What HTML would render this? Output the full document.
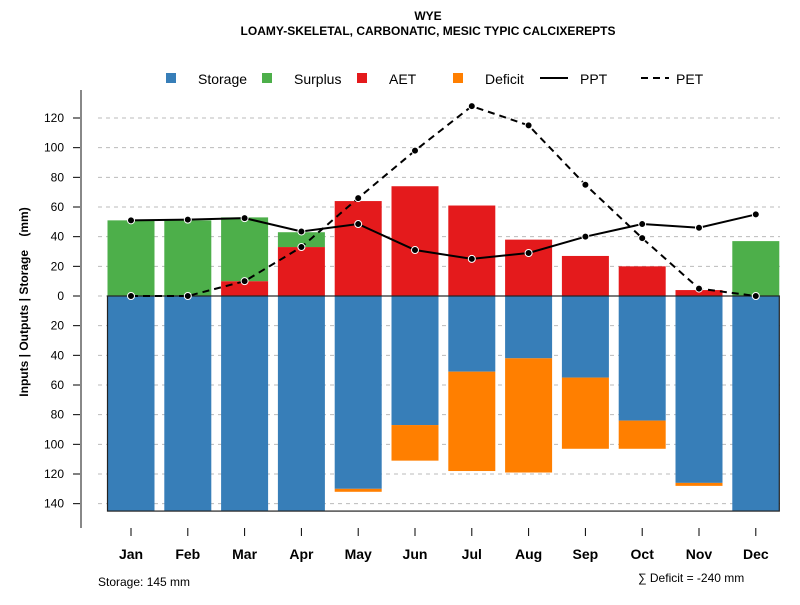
<!DOCTYPE html>
<html><head><meta charset="utf-8"><style>
body{margin:0;background:#fff;font-family:"Liberation Sans",Arial,sans-serif}
svg text{font-family:"Liberation Sans",Arial,sans-serif}
</style></head><body>
<svg id="c" width="800" height="600">
<text x="428" y="20" text-anchor="middle" font-size="12" font-weight="bold">WYE</text>
<text x="428" y="35" text-anchor="middle" font-size="12" font-weight="bold">LOAMY-SKELETAL, CARBONATIC, MESIC TYPIC CALCIXEREPTS</text>
<g id="legend">
<rect x="166" y="73" width="10" height="10" fill="#377eb8"/><text x="198" y="84" font-size="14">Storage</text>
<rect x="262" y="73" width="10" height="10" fill="#4daf4a"/><text x="294" y="84" font-size="14">Surplus</text>
<rect x="357" y="73" width="10" height="10" fill="#e41a1c"/><text x="389" y="84" font-size="14">AET</text>
<rect x="453" y="73" width="10" height="10" fill="#ff7f00"/><text x="485" y="84" font-size="14">Deficit</text>
<line x1="540" y1="78" x2="568" y2="78" stroke="#000" stroke-width="2"/><text x="580" y="84" font-size="14">PPT</text>
<line x1="641" y1="78" x2="669" y2="78" stroke="#000" stroke-width="2" stroke-dasharray="7,5"/><text x="676" y="84" font-size="14">PET</text>
</g>
<g id="grid"></g><g id="bars"></g><g id="lines"></g><g id="axes"></g>
<text transform="translate(28,302) rotate(-90)" text-anchor="middle" font-size="12" font-weight="bold" xml:space="preserve">Inputs | Outputs | Storage    (mm)</text>
<text x="98" y="586" font-size="12">Storage: 145 mm</text>
<text x="638" y="582" font-size="12">∑ Deficit = -240 mm</text>
</svg>
<script>
const months=["Jan","Feb","Mar","Apr","May","Jun","Jul","Aug","Sep","Oct","Nov","Dec"];
const surplus=[51,51,43,10,0,0,0,0,0,0,0,37];
const aet=[0,0,10,33,64,74,61,38,27,20,4,0];
const storage=[145,145,145,145,130,87,51,42,55,84,126,145];
const deficit=[0,0,0,0,2,24,67,77,48,19,2,0];
const ppt=[51,51.5,52.5,43.5,48.5,31,25,29,40,48.5,46,55];
const pet=[0,0,10,33,66,98,128,115,75,39,5,0];
const yTicks=[120,100,80,60,40,20,0,20,40,60,80,100,120,140];
const yTickVals=[120,100,80,60,40,20,0,-20,-40,-60,-80,-100,-120,-140];
const capacity=145;
const NS="http://www.w3.org/2000/svg";
const y=v=>296-v*1.4833;
const x=i=>131+i*56.8;
const bw=47;
function mk(t,a,p){const e=document.createElementNS(NS,t);for(const k in a)e.setAttribute(k,a[k]);p.appendChild(e);return e;}
const G=document.getElementById('grid'),B=document.getElementById('bars'),L=document.getElementById('lines'),A=document.getElementById('axes');
yTickVals.forEach((v,k)=>{
 const g=mk('line',{x1:98,x2:780,y1:y(v),y2:y(v),stroke:'#bbb','stroke-dasharray':'4,4'},G);
 
 
 mk('line',{x1:73,x2:81,y1:y(v),y2:y(v),stroke:'#000'},A);
 const t=mk('text',{x:64,y:y(v)+4,'text-anchor':'end','font-size':12},A);t.textContent=yTicks[k];
 
 
});
mk('line',{x1:81,x2:81,y1:90,y2:528,stroke:'#888','stroke-width':2},A);
months.forEach((m,i)=>{
 const cx=x(i),x0=cx-bw/2;
 function bar(v0,v1,c,n){if(v1===v0)return;const r=mk('rect',{x:x0,y:Math.min(y(v0),y(v1)),width:bw,height:Math.abs(y(v1)-y(v0)),fill:c},B);
  
  }
 bar(0,-storage[i],'#377eb8','storage-bar-'+m.toLowerCase());
 bar(-storage[i],-storage[i]-deficit[i],'#ff7f00','deficit-bar-'+m.toLowerCase());
 bar(0,aet[i],'#e41a1c','aet-bar-'+m.toLowerCase());
 bar(aet[i],aet[i]+surplus[i],'#4daf4a','surplus-bar-'+m.toLowerCase());
 mk('line',{x1:cx,x2:cx,y1:528,y2:536,stroke:'#000'},A);
 const t=mk('text',{x:cx,y:559,'text-anchor':'middle','font-size':14,'font-weight':'bold'},A);t.textContent=m;
 
 
});
const box=mk('rect',{x:x(0)-bw/2,y:y(0),width:x(11)+bw/2-(x(0)-bw/2),height:y(-capacity)-y(0),fill:'none',stroke:'#222','stroke-width':1.2},B);


function series(d,dash,n){
 const p=mk('polyline',{points:d.map((v,i)=>x(i)+','+y(v)).join(' '),fill:'none',stroke:'#000','stroke-width':2,'stroke-dasharray':dash},L);
 
 
 d.forEach((v,i)=>{const c=mk('circle',{cx:x(i),cy:y(v),r:3.5,fill:'#000',stroke:'#fff','stroke-width':1},L);
  
  });
}
series(pet,'7,5','pet');
series(ppt,'none','ppt');
</script>
</body></html>
